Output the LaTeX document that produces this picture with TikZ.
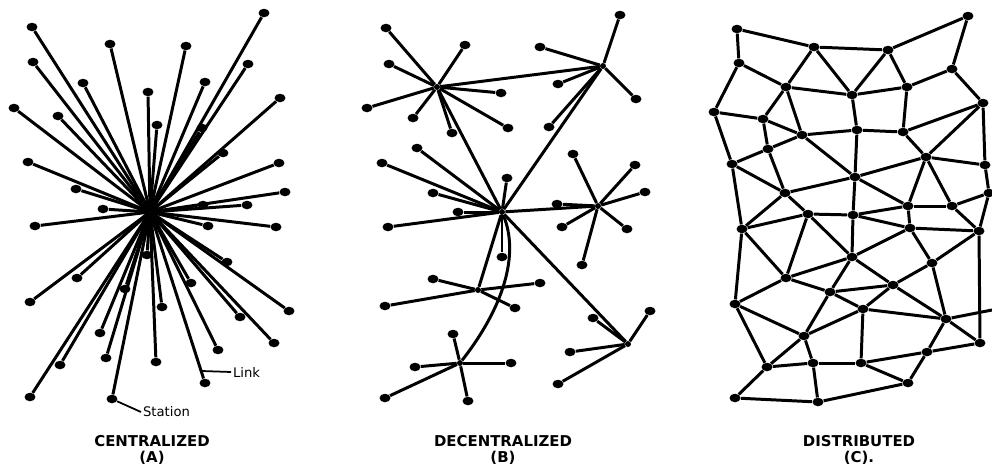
\documentclass[tikz,border=0pt]{standalone}
\usepackage{fontspec}
\usetikzlibrary{shapes.geometric}
\newfontfamily\capfont{DejaVu Sans}
\tikzset{
  station/.style={ellipse,fill=black,inner sep=0pt,minimum width=0.22cm,minimum height=0.17cm},
  relay/.style={circle,fill=black,inner sep=0pt,minimum size=0.12cm},
  link/.style={line width=1.7pt},
  leader/.style={line width=1pt},
  caption/.style={font=\capfont\bfseries\fontsize{8.5}{9}\selectfont,align=center},
  hand/.style={font=\capfont\fontsize{7.5}{9}\selectfont,inner sep=1pt}
}
\begin{document}
\begin{tikzpicture}[x=0.02cm,y=-0.02cm]
  \useasboundingbox (0,0) rectangle (992,468);

  % (A) centralized
  \coordinate (A0) at (150,212);
  \foreach \n/\x/\y in {1/32/27,2/110/44,3/186/46,4/264/13,5/33/62,6/83/83,7/248/64,8/205/82,
      9/148/92,10/157/125,11/14/108,12/58/116,13/280/98,14/202/128,15/223/153,16/28/162,
      17/279/163,18/76/189,19/285/192,20/247/205,21/103/209,22/203/205,23/35/226,24/276/227,
      25/208/226,26/147/255,27/227/262,28/77/278,29/191/283,30/30/302,31/125/289,32/162/307,
      33/289/311,34/240/317,35/100/333,36/274/343,37/218/350,38/106/358,39/156/362,40/60/365,
      41/205/383,42/30/397,43/112/399}
    {\node[station] (A\n) at (\x,\y) {};
     \draw[link] (A0) -- (A\n);}
  \coordinate (linkpt) at (202,371);
  \node[hand,anchor=west] (linktext) at (231,372) {Link};
  \draw[leader] (linkpt) -- (linktext.west);
  \node[hand,anchor=west] (stationtext) at (141,412) {Station};
  \draw[leader] (A43) -- (stationtext.west);
  \node[caption] (capA) at (152,450) {CENTRALIZED\\(A)};

  % (B) decentralized
  \node[relay] (B1) at (437,87) {};
  \node[relay] (B2) at (603,66) {};
  \node[relay] (B3) at (502,212) {};
  \node[relay] (B4) at (598,206) {};
  \node[relay] (B5) at (478,290) {};
  \node[relay] (B6) at (460,363) {};
  \node[relay] (B7) at (628,344) {};
  \foreach \n/\x/\y in {1/386/28,2/465/45,3/389/64,4/501/93,5/367/108,6/413/118,7/452/133,8/508/128}
    {\node[station] (B1-\n) at (\x,\y) {}; \draw[link] (B1) -- (B1-\n);}
  \foreach \n/\x/\y in {1/620/15,2/540/47,3/558/84,4/636/99,5/549/127}
    {\node[station] (B2-\n) at (\x,\y) {}; \draw[link] (B2) -- (B2-\n);}
  \foreach \n/\x/\y in {1/417/148,2/382/163,3/507/178,4/433/193,5/458/212,6/388/227,7/502/257}
    {\node[station] (B3-\n) at (\x,\y) {}; \draw[link] (B3) -- (B3-\n);}
  \foreach \n/\x/\y in {1/573/154,2/635/165,3/645/192,4/557/204,5/562/227,6/627/229,7/582/265}
    {\node[station] (B4-\n) at (\x,\y) {}; \draw[link] (B4) -- (B4-\n);}
  \foreach \n/\x/\y in {1/433/279,2/540/283,3/385/306,4/515/308}
    {\node[station] (B5-\n) at (\x,\y) {}; \draw[link] (B5) -- (B5-\n);}
  \foreach \n/\x/\y in {1/453/334,2/415/367,3/511/363,4/385/398,5/468/401}
    {\node[station] (B6-\n) at (\x,\y) {}; \draw[link] (B6) -- (B6-\n);}
  \foreach \n/\x/\y in {1/650/311,2/593/318,3/570/352,4/558/384}
    {\node[station] (B7-\n) at (\x,\y) {}; \draw[link] (B7) -- (B7-\n);}
  \foreach \u/\v in {B1/B2,B1/B3,B2/B3,B3/B4,B3/B5,B3/B7}
    \draw[link] (\u) -- (\v);
  \draw[link] (B6) .. controls (503,308) and (520,255) .. (B3);
  \node[caption] (capB) at (503,450) {DECENTRALIZED\\(B)};

  % (C) distributed
  \foreach \n/\x/\y in {a1/737/29,a2/814/47,a3/888/50,a4/968/16,
      b1/739/63,b2/786/87,b3/852/95,b4/907/87,b5/952/69,
      c1/714/112,c2/763/119,c3/802/135,c4/857/130,c5/903/132,c6/983/103,
      d1/768/149,d2/926/157,d3/985/165,e1/732/164,e2/855/177,
      f1/785/193,f2/908/206,f3/952/206,f4/989/193,
      g1/808/214,g2/853/215,g3/742/229,h1/910/228,h2/979/231,
      i1/852/257,i2/932/263,j1/786/278,j2/830/292,j3/893/285,
      k1/735/304,k2/863/309,k3/946/319,l1/804/336,l2/980/343,
      m1/767/367,m2/813/363,m3/861/363,m4/927/352,n1/908/383,o1/735/398,o2/818/402}
    \node[station] (C\n) at (\x,\y) {};
  \coordinate (Cr1) at (992,310);
  \foreach \u/\v in {a1/a2,a2/a3,a3/a4,a1/b1,a4/b5,b1/b2,b1/c1,a2/b2,a2/b3,a3/b3,a3/b4,
      b2/b3,b3/b4,b4/b5,b5/c6,b2/c2,b2/c3,b3/c4,b4/c5,c4/c5,c5/c6,c1/c2,c2/c3,c2/d1,d1/c3,
      c3/c4,c1/e1,e1/d1,c3/e2,c4/e2,c5/d2,c6/d2,c6/d3,d2/d3,d2/f2,d2/f3,e2/d2,e2/f2,f2/f3,
      f3/f4,d3/f4,f4/h2,e1/f1,d1/f1,f1/e2,f1/g1,f1/g3,e1/g3,g3/g1,g1/g2,e2/g2,g2/f2,g2/h1,
      f2/h1,f3/h2,h1/h2,h1/i1,h1/i2,g2/i1,g1/i1,i2/h2,h2/l2,g3/k1,g3/j1,g1/j1,j1/i1,j1/k1,
      j1/j2,i1/j2,i1/j3,j2/j3,j3/i2,j2/k2,j2/l1,j3/k2,j3/k3,k2/k3,i2/k3,k3/r1,k3/l2,k1/l1,
      k1/m1,l1/m1,l1/m2,l1/k2,m1/m2,m2/m3,k2/m3,m3/m4,m4/k3,m4/l2,m3/n1,n1/m4,m1/o1,o1/o2,
      m2/o2,o2/n1}
    \draw[link] (C\u) -- (C\v);
  \node[caption] (capC) at (859,450) {DISTRIBUTED\\(C).};
\end{tikzpicture}
\end{document}
